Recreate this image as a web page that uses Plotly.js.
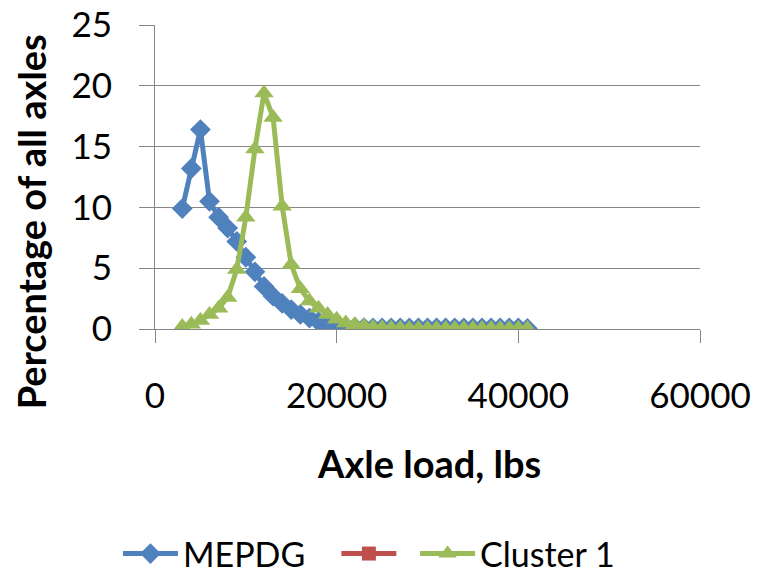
<!DOCTYPE html>
<html>
<head>
<meta charset="utf-8">
<script src="https://cdn.plot.ly/plotly-3.0.1.min.js"></script>
<style>html,body{margin:0;padding:0;background:#fff;}#chart{width:759px;height:573px;}</style>
</head>
<body>
<div id="chart"></div>
<script>
// Axle load (lbs)
var axleLoad = [3000,4000,5000,6000,7000,8000,9000,10000,11000,12000,13000,14000,15000,16000,17000,18000,19000,20000,21000,22000,23000,24000,25000,26000,27000,28000,29000,30000,31000,32000,33000,34000,35000,36000,37000,38000,39000,40000,41000];
// MEPDG percentage of all axles
var mepdg = [9.9,13.2,16.4,10.5,9.2,8.3,7.2,5.9,4.7,3.5,2.7,2.1,1.6,1.2,0.9,0.6,0.4,0.25,0.2,0.15,0.12,0.1,0.1,0.1,0.1,0.1,0.1,0.1,0.1,0.1,0.1,0.1,0.1,0.1,0.1,0.1,0.1,0.1,0.05];
// unnamed red series (no visible values)
var series2 = [null,null,null,null,null,null,null,null,null,null,null,null,null,null,null,null,null,null,null,null,null,null,null,null,null,null,null,null,null,null,null,null,null,null,null,null,null,null,null];
// Cluster 1 percentage of all axles
var cluster1 = [0.2,0.4,0.7,1.2,1.7,2.6,4.9,9.2,14.8,19.4,17.4,10.1,5.3,3.3,2.3,1.7,1.2,0.8,0.5,0.35,0.25,0.15,0.1,0.08,0.06,0.05,0.05,0.05,0.05,0.05,0.05,0.05,0.05,0.05,0.05,0.05,0.05,0.05,0.05];

var seriesNames = ['MEPDG', ' ', 'Cluster 1'];
var xTicks = [0, 20000, 40000, 60000];
var yTicks = [0, 5, 10, 15, 20, 25];

var FONT = 'Lato, "Noto Sans", sans-serif';
var PAD = '\u00a0\u00a0\u00a0';

var traces = [
  {x: axleLoad, y: mepdg, name: seriesNames[0] + PAD, type: 'scatter', mode: 'lines+markers',
   line: {color: '#4F81BD', width: 5}, marker: {symbol: 'diamond', size: 16, color: '#4F81BD'}},
  {x: axleLoad, y: series2, name: seriesNames[1], type: 'scatter', mode: 'lines+markers',
   line: {color: '#C0504D', width: 5}, marker: {symbol: 'square', size: 14, color: '#C0504D'}},
  {x: axleLoad, y: cluster1, name: seriesNames[2], type: 'scatter', mode: 'lines+markers',
   line: {color: '#9BBB59', width: 5}, marker: {symbol: 'triangle-up', size: 17, color: '#9BBB59'}}
];

var layout = {
  width: 759, height: 573,
  margin: {l: 155, r: 59, t: 25, b: 244, autoexpand: false},
  paper_bgcolor: '#fff', plot_bgcolor: '#fff',
  font: {family: FONT, color: '#000', size: 34},
  showlegend: true,
  legend: {orientation: 'h', x: -0.068, y: -0.74, xanchor: 'left', yanchor: 'middle',
           itemwidth: 55,
           font: {family: FONT, size: 34, color: '#000'}, traceorder: 'normal'},
  xaxis: {range: [0, 60000], tickvals: xTicks, ticktext: xTicks.map(String),
          showgrid: false, zeroline: false, showline: true, linecolor: '#868686', linewidth: 1,
          ticks: 'outside', ticklen: 13, tickcolor: '#868686', tickwidth: 1,
          ticklabelstandoff: 23, tickfont: {family: FONT, size: 35, color: '#000'}},
  yaxis: {range: [0, 25], tickvals: yTicks, ticktext: yTicks.map(String),
          showgrid: true, gridcolor: '#868686', gridwidth: 1, zeroline: false,
          showline: true, linecolor: '#868686', linewidth: 1,
          ticks: 'outside', ticklen: 15, tickcolor: '#868686', tickwidth: 1,
          ticklabelstandoff: 20, tickfont: {family: FONT, size: 35, color: '#000'}},
  annotations: [
    {text: '<b>Percentage of all axles</b>', xref: 'paper', yref: 'paper', x: -0.227, y: 0.352,
     xanchor: 'center', yanchor: 'middle', textangle: -90, showarrow: false,
     font: {family: FONT, size: 38, color: '#000'}},
    {text: '<b>Axle load, lbs</b>', xref: 'paper', yref: 'paper', x: 0.503, y: -0.441,
     xanchor: 'center', yanchor: 'middle', showarrow: false,
     font: {family: FONT, size: 38, color: '#000'}}
  ]
};

Plotly.newPlot('chart', traces, layout, {staticPlot: true, displayModeBar: false});
</script>
</body>
</html>
